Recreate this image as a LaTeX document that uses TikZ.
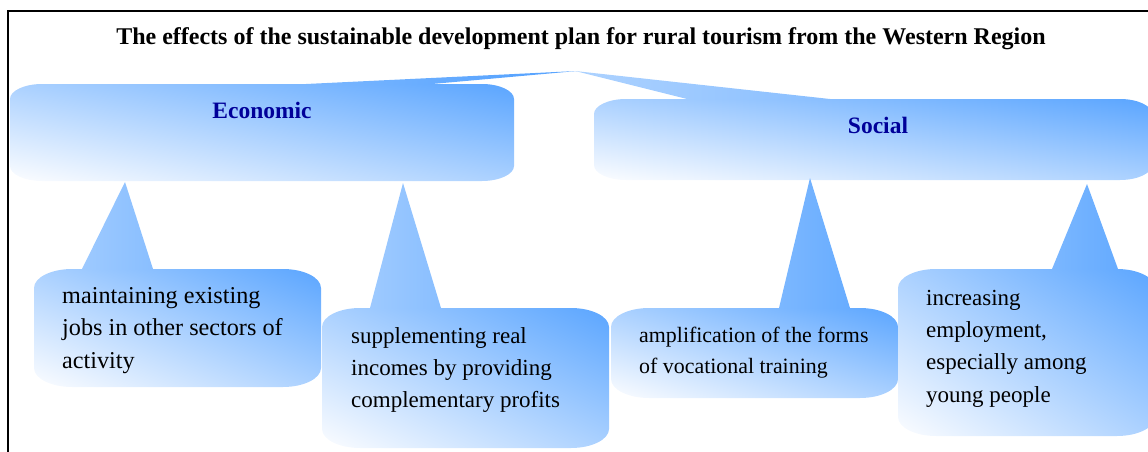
\documentclass[tikz,border=0pt]{standalone}
\usepackage{fontspec}
\setmainfont{Liberation Serif}
\definecolor{headtxt}{HTML}{000099}
% diagonal gradient over the box (central 25bp..75bp square), light at bottom-left,
% blue at top-right; each coordinate is clamped so the pointer continues the box's edge colour
\pgfdeclarefunctionalshading{diagblue}{\pgfpoint{-150bp}{-150bp}}{\pgfpoint{250bp}{250bp}}{}{%
  dup 25 lt {pop 25} if dup 75 gt {pop 75} if
  exch
  dup 25 lt {pop 25} if dup 75 gt {pop 75} if
  add 50 sub 100 div
  dup dup
  0.635 mul 0.988 exch sub 3 1 roll
  0.345 mul 0.992 exch sub exch pop 1.0}
\tikzset{
  bodytext/.style={align=left, anchor=base west, inner sep=0pt},
  headtext/.style={font=\bfseries\fontsize{23.5}{28}\selectfont, text=headtxt, anchor=base, inner sep=0pt},
  titletext/.style={font=\bfseries\fontsize{24}{28}\selectfont, anchor=base, inner sep=0pt},
  frameline/.style={line width=2pt, draw=black}
}
% #1 L, #2 T, #3 R, #4 B, #5 base left, #6 base right, #7 tip x, #8 tip y
\newcommand\bubble[8]{%
  \begin{scope}
  \clip
    ({#1},{#2+\cry}) .. controls ({#1},{#2+0.45*\cry}) and ({#1+0.45*\crx},{#2}) .. ({#1+\crx},{#2})
    -- ({#5},{#2}) -- ({#7},{#8}) -- ({#6},{#2})
    -- ({#3-\crx},{#2}) .. controls ({#3-0.45*\crx},{#2}) and ({#3},{#2+0.45*\cry}) .. ({#3},{#2+\cry})
    -- ({#3},{#4-\cry}) .. controls ({#3},{#4-0.45*\cry}) and ({#3-0.45*\crx},{#4}) .. ({#3-\crx},{#4})
    -- ({#1+\crx},{#4}) .. controls ({#1+0.45*\crx},{#4}) and ({#1},{#4-0.45*\cry}) .. ({#1},{#4-\cry})
    -- cycle;
  \pgfmathsetmacro\bcx{(#1+#3)/2}\pgfmathsetmacro\bcy{(#2+#4)/2}%
  \pgfmathsetmacro\bsx{(#3-#1)/50.1875}\pgfmathsetmacro\bsy{(#4-#2)/50.1875}%
  \begin{pgfscope}
    \pgftransformshift{\pgfpointxy{\bcx}{\bcy}}%
    \pgftransformxscale{\bsx}\pgftransformyscale{\bsy}%
    \pgflowlevelsynccm
    \pgfuseshading{diagblue}%
  \end{pgfscope}
  \end{scope}}
\begin{document}
\begin{tikzpicture}[x=1pt, y=-1pt]
\useasboundingbox (0,0) rectangle (1148,452);
\clip (0,0) rectangle (1148,452);
% frame
\draw[frameline] (8,453) -- (8,11) -- (1150,11);
% title
\node[titletext] (title) at (581,45) {The effects of the sustainable development plan for rural tourism from the Western Region};
% header callouts
\def\crx{32}\def\cry{15}
\bubble{10}{84}{514}{181}{306}{432}{577}{71}
\bubble{594}{99}{1152}{180}{687}{830}{575}{71}
\node[headtext] (econ) at (262,118) {Economic};
\node[headtext] (soc) at (878,133) {Social};
% lower callouts
\def\crx{38}\def\cry{19}
\bubble{34}{269}{321}{387}{82}{153}{125}{182}
\bubble{322}{308}{609}{448}{370}{441}{403}{183}
\bubble{611}{308}{898}{398}{779}{850}{810}{178}
\bubble{898}{269}{1155}{436}{1052}{1118}{1087}{184}
\node[bodytext, font=\fontsize{24.2}{32.5}\selectfont] (t1) at (62,368) {maintaining existing\\jobs in other sectors of\\activity};
\node[bodytext, font=\fontsize{23}{32}\selectfont] (t2) at (351,407) {supplementing real\\incomes by providing\\complementary profits};
\node[bodytext, font=\fontsize{21.9}{31}\selectfont] (t3) at (639,373) {amplification of the forms\\of vocational training};
\node[bodytext, font=\fontsize{23}{32.3}\selectfont] (t4) at (926,402) {increasing\\employment,\\especially among\\young people};
\end{tikzpicture}
\end{document}
